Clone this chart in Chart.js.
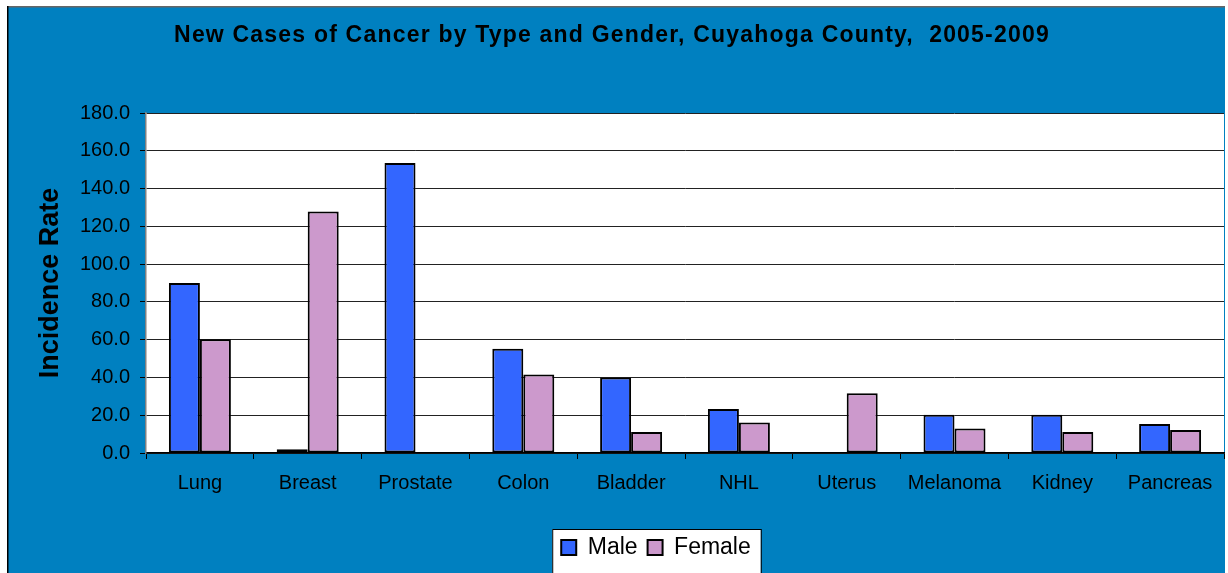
<!DOCTYPE html>
<html>
<head>
<meta charset="utf-8">
<script src="https://cdn.jsdelivr.net/npm/chart.js@4"></script>
<style>
  html, body { margin: 0; padding: 0; background: #ffffff; }
  #wrap { width: 1228px; height: 573px; }
</style>
</head>
<body>
<div id="wrap"><canvas id="chart" width="1228" height="573"></canvas></div>
<script>
const categories = ['Lung', 'Breast', 'Prostate', 'Colon', 'Bladder', 'NHL', 'Uterus', 'Melanoma', 'Kidney', 'Pancreas'];
const maleRates = [90.0, 2.0, 153.5, 55.2, 40.0, 23.3, null, 20.3, 20.3, 15.3];
const femaleRates = [60.2, 127.8, null, 41.6, 11.1, 16.2, 31.6, 13.0, 11.1, 12.2];
const yTicks = { min: 0, max: 180, step: 20 };

const FONT = "'Liberation Sans', Arial, sans-serif";
const BG_BLUE = '#0080C0';

// blue frame, white plot area and the white legend box
const backdrop = {
  id: 'backdrop',
  afterLayout(chart) {
    // legend sits right of centre in the original
    chart.legend.left += 44;
    chart.legend.right += 44;
  },
  beforeDraw(chart) {
    const { ctx, chartArea: a, legend } = chart;
    ctx.save();
    ctx.fillStyle = '#ffffff';
    ctx.fillRect(0, 0, chart.width, chart.height);
    ctx.fillStyle = BG_BLUE;
    ctx.fillRect(8, 7, 1217, 566);
    ctx.fillStyle = '#666666';
    ctx.fillRect(8, 6, 1217, 1.5);
    ctx.fillStyle = '#000000';
    ctx.fillRect(7, 6, 1.5, 567);

    ctx.fillStyle = '#ffffff';
    ctx.fillRect(a.left, a.top, a.right - a.left, a.bottom - a.top);

    const hb = legend.legendHitBoxes;
    if (hb && hb.length) {
      const last = hb[hb.length - 1];
      const x0 = hb[0].left - 9;
      const x1 = last.left + last.width + 10;
      const y0 = legend.top + 3;
      ctx.fillRect(x0, y0, x1 - x0, chart.height - y0 + 2);
      ctx.strokeStyle = '#000000';
      ctx.lineWidth = 1;
      ctx.strokeRect(x0 + 0.5, y0 + 0.5, x1 - x0, chart.height - y0 + 2);
    }
    ctx.restore();
  },
  afterInit(chart) {
    // a little letter spacing on the title, like the original
    const t = chart.titleBlock;
    const orig = t.draw.bind(t);
    t.draw = (area) => {
      chart.ctx.save();
      chart.ctx.letterSpacing = '1.2px';
      orig(area);
      chart.ctx.restore();
    };
  }
};

new Chart(document.getElementById('chart').getContext('2d'), {
  type: 'bar',
  data: {
    labels: categories,
    datasets: [
      {
        label: 'Male',
        data: maleRates,
        backgroundColor: '#3366FF',
        borderColor: '#000000',
        borderWidth: 2,
        borderSkipped: false
      },
      {
        label: 'Female',
        data: femaleRates,
        backgroundColor: '#CC99CC',
        borderColor: '#000000',
        borderWidth: 2,
        borderSkipped: false
      }
    ]
  },
  options: {
    responsive: false,
    animation: false,
    devicePixelRatio: 1,
    categoryPercentage: 0.575,
    barPercentage: 1.0,
    layout: { padding: { left: 0, right: 4, top: 0, bottom: 4 } },
    plugins: {
      title: {
        display: true,
        text: 'New Cases of Cancer by Type and Gender, Cuyahoga County,  2005-2009',
        color: '#000000',
        font: { family: FONT, size: 23, weight: 'bold' },
        padding: { top: 22, bottom: 63.4 }
      },
      legend: {
        position: 'bottom',
        labels: {
          color: '#000000',
          font: { family: FONT, size: 23 },
          boxWidth: 15,
          boxHeight: 15,
          padding: 10
        }
      },
      tooltip: { enabled: false }
    },
    scales: {
      x: {
        afterFit: s => { s.height = 73; },
        border: { color: '#000000', width: 1.5 },
        grid: { drawOnChartArea: false, drawTicks: true, tickLength: 6, color: '#000000' },
        ticks: { color: '#000000', font: { family: FONT, size: 20 }, padding: 12, maxRotation: 0, autoSkip: false }
      },
      y: {
        min: yTicks.min,
        max: yTicks.max,
        afterFit: s => { s.width = 146; },
        border: { color: '#808080', width: 1.5 },
        grid: { color: '#222222', lineWidth: 1, tickLength: 6, tickColor: '#000000' },
        ticks: {
          stepSize: yTicks.step,
          color: '#000000',
          font: { family: FONT, size: 20 },
          padding: 10,
          callback: v => v.toFixed(1)
        },
        title: {
          display: true,
          text: 'Incidence Rate',
          color: '#000000',
          font: { family: FONT, size: 27, weight: 'bold' },
          padding: { top: 34, bottom: 0 }
        }
      }
    }
  },
  plugins: [backdrop]
});
</script>
</body>
</html>
